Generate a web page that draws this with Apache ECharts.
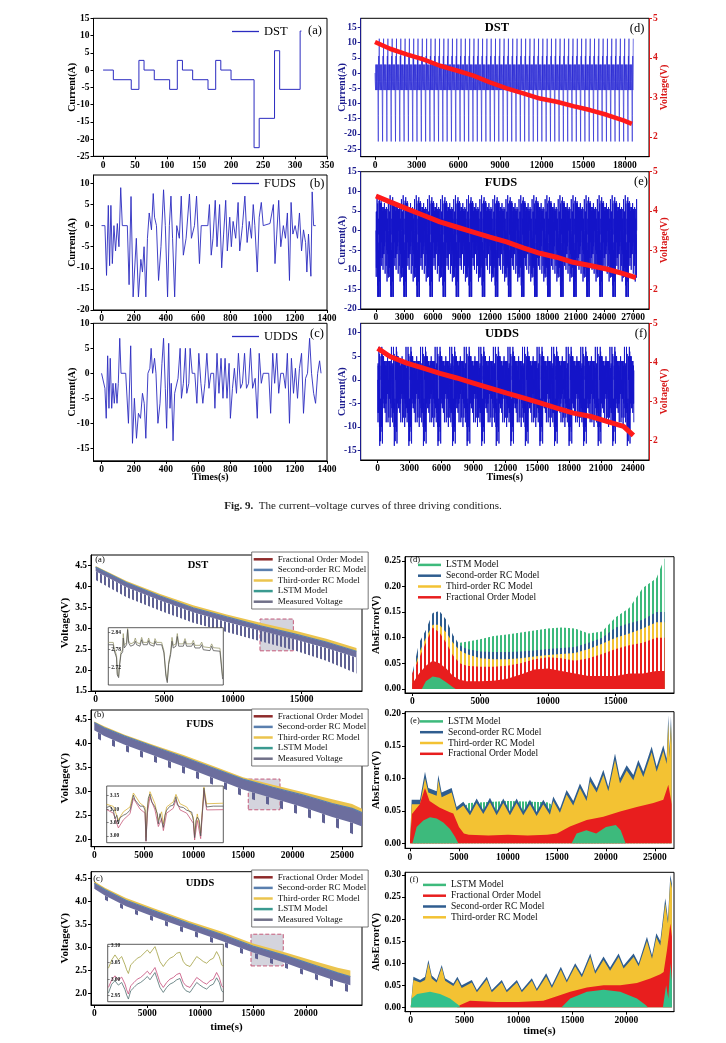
<!DOCTYPE html>
<html>
<head>
<meta charset="utf-8">
<script src="https://cdn.jsdelivr.net/npm/echarts@6/dist/echarts.min.js"></script>
<style>
  html, body { margin: 0; padding: 0; background: #fff; }
  #fig { width: 726px; height: 1043px; }
</style>
</head>
<body>
<div id="fig"></div>
<script>
// ---------- Fig. 9: single-cycle current profiles [time s, current A] ----------
const dstProfile = [[0,0],[16,-2.8],[44,-5.6],[56,2.8],[64,0],[80,-2.8],[104,-5.6],[116,2.8],[124,0],[140,-2.8],[164,-5.6],[176,2.8],[184,0],[200,-2.8],[236,-22.5],[244,-14],[268,5.6],[276,-5.6],[308,11.3],[310,11.3]];
const fudsProfile = [[0,0],[21,0],[31,-11.8],[42,4.8],[50,-9.5],[58,4.8],[67,-9],[77,0],[87,-6],[98,0.5],[108,-5],[119,9],[129,0],[160,0],[171,-14],[183,6.9],[196,-16.9],[208,-16.9],[216,-3],[229,-16.9],[244,-8],[254,-11],[264,-5],[275,-16.9],[285,-3],[296,3],[310,-1],[321,7.6],[329,2],[341,0],[354,-13],[369,-5],[385,8.5],[396,0],[410,-16.9],[421,0],[431,7],[441,-3],[454,-16.9],[467,0],[483,-3],[495,7],[508,-7],[525,-3],[546,7.5],[558,-3],[577,0],[590,7],[608,-9],[619,0],[660,0],[670,5],[681,-7],[692,-3],[706,6],[717,-5],[733,5],[746,-10],[758,-2],[771,6],[781,-6],[796,2],[806,-5],[817,1],[833,-3],[848,5.5],[858,-6],[875,0],[890,7],[904,-4],[917,1],[931,-3],[942,5],[952,0],[967,-11],[979,2],[992,5.5],[1004,0],[1046,0.5],[1067,5],[1077,-9],[1088,-2],[1100,6],[1113,-5],[1129,0],[1142,-3],[1154,3],[1167,-13],[1177,5.5],[1188,-2],[1202,0],[1217,-3],[1229,3],[1242,-6],[1254,-1],[1267,-4],[1275,-11],[1285,-2],[1300,-12],[1308,8],[1317,0],[1330,0]];
const uddsProfile = [[0,0],[10,0],[21,-3],[29,-9],[38,3.5],[46,-7],[54,3],[63,-7],[71,-2],[79,-6],[88,-2],[96,-6],[104,-2],[113,7],[121,0],[150,0],[167,-10],[181,5.5],[192,-14],[204,-5],[217,-13],[229,-8],[242,-9],[254,-4],[265,-6],[275,-13],[288,0],[300,1],[308,5],[317,0],[329,3],[338,0],[350,-10],[363,-6],[375,2],[385,7],[396,-3],[404,-11],[417,6],[425,-7],[433,-2],[444,-13.5],[454,-4],[463,-4],[475,-1],[488,5],[496,-5],[508,-2],[521,5],[529,-4],[542,-2],[550,5],[563,0],[579,0],[592,-6],[604,4],[617,-2],[629,-6],[642,-2],[654,4],[667,-3],[679,0],[696,0],[704,-7],[717,4],[729,-4],[742,3],[754,-5],[767,3],[779,-5],[792,2],[800,-9],[813,-3],[825,1],[838,-4],[850,4],[863,-3],[875,-2],[888,4],[900,-3],[913,-2],[925,5],[938,-3],[954,-1],[967,-9],[979,4],[992,-2],[1004,0],[1038,0],[1050,-8],[1063,4],[1075,-2],[1088,4],[1100,-4],[1113,0],[1129,0],[1142,-3],[1154,4],[1167,-10],[1179,3],[1192,-4],[1204,1],[1217,-5],[1229,1],[1242,4],[1254,-8],[1267,-1],[1279,0],[1292,7],[1304,0],[1317,-4],[1329,-6],[1342,0],[1354,2.5],[1363,0]];

// full tests = the cycle repeated
const dstCycle = 310, dstCycles = 60, dstEnd = 18600;
const fudsCycle = 1372, fudsCycles = 20, fudsEnd = 27440;
const uddsCycle = 1370, uddsCycles = 18, uddsEnd = 24100;

// terminal voltage over the full tests
const dstVoltT = [0,1080,2280,3480,4680,5880,7080,8280,9480,10680,11880,13080,14280,15480,16680,17880,18500];
const dstVolt = [4.40,4.23,4.09,3.96,3.80,3.68,3.55,3.38,3.23,3.10,2.97,2.89,2.78,2.68,2.56,2.42,2.33];
const fudsVoltT = [0,1470,3220,4970,6720,8470,10220,11970,13720,15470,17220,18970,20720,22470,24220,25970,27300];
const fudsVolt = [4.38,4.23,4.06,3.89,3.72,3.59,3.46,3.33,3.21,3.06,2.92,2.82,2.69,2.61,2.52,2.40,2.30];
const uddsVoltT = [0,1160,2730,4290,5860,7430,9000,10570,12140,13700,15270,16840,18410,19980,21550,23120,24050];
const uddsVolt = [4.36,4.15,3.98,3.85,3.72,3.60,3.47,3.34,3.21,3.09,2.96,2.83,2.70,2.62,2.49,2.36,2.13];

// ---------- model comparison: voltage envelopes ----------
const dstVT = [0,2250,4700,7100,9550,12000,14400,16800,19000];
const dstVTop = [4.46,4.09,3.77,3.49,3.27,3.06,2.87,2.67,2.45];
const dstVSolid = [4.36,3.98,3.66,3.38,3.15,2.94,2.74,2.53,2.30];
const dstVTooth = [4.15,3.74,3.42,3.13,2.91,2.69,2.48,2.22,1.92];
const dstVThird = [4.49,4.13,3.82,3.55,3.33,3.13,2.95,2.75,2.53];

const fudsVT = [0,1000,3000,6000,9000,12000,15000,18000,21000,24000,26000,27000];
const fudsVTop = [4.44,4.33,4.16,3.94,3.72,3.49,3.26,3.09,2.93,2.75,2.65,2.56];
const fudsVThird = [4.46,4.36,4.19,3.97,3.76,3.53,3.30,3.14,2.99,2.84,2.74,2.64];
const fudsVLow = [4.28,4.16,3.98,3.75,3.52,3.28,3.04,2.86,2.68,2.47,2.35,2.27];
const fudsVDip = [4.15,4.02,3.85,3.62,3.38,3.14,2.90,2.70,2.50,2.28,2.12,1.98];

const uddsVT = [0,1000,3000,6000,9000,12000,15000,18000,21000,23000,24200];
const uddsVTop = [4.40,4.26,4.03,3.77,3.52,3.29,3.03,2.83,2.60,2.45,2.37];
const uddsVThird = [4.44,4.30,4.08,3.82,3.57,3.35,3.09,2.90,2.69,2.56,2.50];
const uddsVLow = [4.28,4.13,3.90,3.64,3.39,3.15,2.89,2.67,2.42,2.26,2.18];
const uddsVDip = [4.20,4.04,3.80,3.54,3.28,3.04,2.78,2.56,2.30,2.10,2.02];

// zoomed regions [t0, t1, v0, v1]
const dstZoomBox = [11970, 14400, 2.46, 3.22];
const fudsZoomBox = [15530, 18730, 2.62, 3.26];
const uddsZoomBox = [14810, 17860, 2.60, 3.29];

// insets [x, V]
const insetAMeas = [[0,2.797],[4.3,2.797],[4.9,2.78],[7.2,2.752],[7.8,2.694],[9,2.685],[9.6,2.719],[11,2.764],[12.5,2.773],[13,2.82],[13.9,2.786],[15.9,2.797],[16.8,2.848],[17.7,2.803],[19.4,2.792],[22.3,2.797],[23.5,2.809],[24.6,2.797],[27.5,2.792],[29,2.814],[30.4,2.797],[33.9,2.797],[35.1,2.811],[36.2,2.797],[39.7,2.792],[40.6,2.809],[42,2.797],[46.4,2.797],[48.4,2.769],[50.1,2.69],[51.3,2.668],[52.5,2.73],[54.2,2.764],[55.4,2.809],[56.5,2.786],[58.8,2.792],[60,2.825],[61.2,2.792],[65.2,2.792],[66.7,2.809],[68.1,2.792],[72.5,2.792],[73.9,2.803],[75.4,2.786],[79.7,2.786],[81.2,2.797],[82.6,2.78],[88.4,2.777],[89.9,2.792],[91.3,2.777],[97.1,2.775],[98.6,2.777],[99.4,2.68],[100,2.68]];
const insetAModel = [[0,2.805],[4.3,2.805],[4.9,2.79],[7.2,2.76],[7.8,2.70],[9,2.69],[9.6,2.725],[11,2.772],[12.5,2.78],[13,2.835],[13.9,2.795],[15.9,2.805],[16.8,2.852],[17.7,2.81],[19.4,2.8],[22.3,2.805],[23.5,2.82],[24.6,2.805],[27.5,2.8],[29,2.822],[30.4,2.805],[33.9,2.805],[35.1,2.82],[36.2,2.805],[39.7,2.8],[40.6,2.818],[42,2.805],[46.4,2.805],[48.4,2.776],[50.1,2.7],[51.3,2.675],[52.5,2.738],[54.2,2.772],[55.4,2.822],[56.5,2.795],[58.8,2.8],[60,2.835],[61.2,2.8],[65.2,2.8],[66.7,2.818],[68.1,2.8],[72.5,2.8],[73.9,2.812],[75.4,2.795],[79.7,2.795],[81.2,2.806],[82.6,2.79],[88.4,2.787],[89.9,2.8],[91.3,2.787],[97.1,2.785],[98.6,2.787],[99.4,2.69],[100,2.69]];
const insetBMeas = [[0,3.106],[2.9,3.111],[5.7,3.096],[7.1,3.064],[8.6,3.077],[10,3.045],[11.4,3.068],[14.3,3.077],[17.1,3.083],[20,3.096],[21.4,3.121],[22.9,3.152],[24.3,3.134],[25.7,3.127],[28.6,3.111],[31.4,3.111],[32.9,3.096],[33.7,2.982],[34.9,3.096],[35.7,3.14],[37.1,3.156],[38.6,3.127],[41.4,3.108],[43.4,3.083],[44.3,3.045],[45.7,3.083],[47.1,3.077],[48.6,3.032],[50,3.077],[51.4,3.096],[54.3,3.111],[57.1,3.115],[58.6,3.134],[59.4,3.146],[60.6,3.115],[62.9,3.108],[65.7,3.106],[68.6,3.096],[72.9,3.089],[74.3,3.058],[75.4,2.994],[76.6,3.058],[77.7,3.07],[79.4,3.058],[80.6,3.0],[81.7,3.07],[82.9,3.134],[83.4,3.178],[84.6,3.134],[85.7,3.108],[91.4,3.111],[100,3.111]];
const insetBThird = [[0,3.118],[5.7,3.11],[10,3.06],[14.3,3.09],[20,3.108],[22.9,3.16],[28.6,3.122],[32.9,3.108],[33.7,2.995],[34.9,3.108],[37.1,3.165],[41.4,3.12],[44.3,3.058],[47.1,3.09],[48.6,3.045],[51.4,3.108],[57.1,3.127],[59.4,3.155],[62.9,3.12],[68.6,3.108],[74.3,3.07],[75.4,3.006],[77.7,3.082],[80.6,3.012],[83.4,3.182],[85.7,3.12],[100,3.122]];
const insetBFrac = [[0,3.098],[5.7,3.085],[10,3.03],[14.3,3.06],[20,3.083],[22.9,3.14],[28.6,3.1],[32.9,3.085],[33.7,2.98],[34.9,3.085],[37.1,3.145],[41.4,3.097],[44.3,3.035],[47.1,3.065],[48.6,3.02],[51.4,3.085],[57.1,3.103],[59.4,3.135],[62.9,3.097],[68.6,3.085],[74.3,3.047],[75.4,2.985],[77.7,3.058],[80.6,2.99],[83.4,3.17],[85.7,3.097],[100,3.098]];
const insetCThird = [[0.6,3.033],[3.5,3.058],[6.3,3.073],[9.2,3.058],[12.1,3.068],[15,3.043],[16.4,3.028],[17.9,3.017],[19.9,3.043],[22.8,3.053],[25.6,3.063],[28.5,3.068],[31.4,3.078],[34.3,3.088],[36.6,3.078],[40.9,3.098],[42.4,3.083],[45.2,3.053],[48.1,3.038],[51,3.053],[53.9,3.063],[56.8,3.068],[59.7,3.078],[62.5,3.081],[65.4,3.053],[67.7,3.043],[71.2,3.038],[74.1,3.053],[77,3.068],[79.8,3.061],[82.7,3.053],[85.6,3.048],[88.5,3.058],[91.4,3.063],[94.2,3.083],[96.5,3.068],[98.6,3.043],[100,3.038]];
const insetCFrac = [[0.6,2.975],[3.5,2.998],[6.3,3.01],[9.2,2.998],[12.1,3.006],[15,2.985],[16.4,2.968],[17.9,2.955],[19.9,2.98],[22.8,2.99],[25.6,3.0],[28.5,3.005],[31.4,3.014],[34.3,3.024],[36.6,3.014],[40.9,3.035],[42.4,3.02],[45.2,2.99],[48.1,2.975],[51,2.99],[53.9,3.0],[56.8,3.005],[59.7,3.014],[62.5,3.018],[65.4,2.99],[67.7,2.98],[71.2,2.975],[74.1,2.99],[77,3.005],[79.8,2.998],[82.7,2.99],[85.6,2.985],[88.5,2.995],[91.4,3.0],[94.2,3.02],[96.5,3.005],[98.6,2.98],[100,2.975]];
const insetCMeas = [[0.6,2.958],[3.5,2.985],[6.3,2.995],[9.2,2.982],[12.1,2.99],[15,2.968],[16.4,2.952],[17.9,2.94],[19.9,2.965],[22.8,2.975],[25.6,2.985],[28.5,2.99],[31.4,2.998],[34.3,3.008],[36.6,2.998],[40.9,3.02],[42.4,3.004],[45.2,2.975],[48.1,2.96],[51,2.975],[53.9,2.985],[56.8,2.99],[59.7,2.998],[62.5,3.002],[65.4,2.975],[67.7,2.965],[71.2,2.96],[74.1,2.975],[77,2.99],[79.8,2.982],[82.7,2.975],[85.6,2.97],[88.5,2.98],[91.4,2.985],[94.2,3.004],[96.5,2.99],[98.6,2.965],[100,2.96]];

// ---------- absolute error envelopes ----------
const dstErrT = [0,500,1000,1500,2000,2500,3000,3500,4000,5000,6000,7000,8000,9000,10000,11000,12000,13000,14000,15000,16000,17000,18000,18600];
const dstErrLstm = [0.02,0.06,0.09,0.11,0.10,0.09,0.085,0.09,0.092,0.097,0.103,0.106,0.11,0.114,0.118,0.12,0.118,0.108,0.112,0.14,0.158,0.197,0.216,0.255];
const dstErrSecond = [0.03,0.09,0.115,0.148,0.152,0.135,0.105,0.085,0.078,0.073,0.072,0.072,0.073,0.075,0.078,0.08,0.082,0.09,0.1,0.12,0.128,0.135,0.15,0.15];
const dstErrThird = [0.025,0.07,0.1,0.125,0.125,0.11,0.09,0.075,0.068,0.06,0.058,0.058,0.06,0.063,0.066,0.068,0.07,0.078,0.088,0.1,0.108,0.118,0.13,0.13];
const dstErrFrac = [0.03,0.06,0.09,0.12,0.11,0.09,0.065,0.05,0.045,0.043,0.043,0.045,0.05,0.058,0.062,0.06,0.055,0.06,0.068,0.078,0.085,0.09,0.1,0.1];
const dstErrFracBase = [0.01,0.03,0.045,0.055,0.05,0.04,0.025,0.018,0.015,0.015,0.016,0.02,0.028,0.038,0.04,0.035,0.03,0.025,0.025,0.025,0.03,0.03,0.035,0.035];
const dstErrLstmLowT = [700,1000,1500,2000,2500,3000,3200];
const dstErrLstmLow = [0,0.015,0.024,0.022,0.013,0.003,0];

const fudsErrT = [0,170,1020,1530,1870,2720,2890,3230,4250,4760,5440,6120,6800,7480,8160,8840,9520,10200,10880,11560,12240,12920,13600,14280,14620,15300,15980,16660,17340,18020,18370,19050,19730,20240,20920,21430,22110,22790,23300,23810,24660,25170,25850,26190,26360,26470,26630,26700];
const fudsErrSecond = [0,0.067,0.067,0.11,0.085,0.08,0.105,0.078,0.085,0.056,0.064,0.049,0.069,0.051,0.07,0.049,0.069,0.049,0.069,0.049,0.067,0.048,0.067,0.05,0.072,0.053,0.082,0.065,0.092,0.072,0.103,0.085,0.113,0.087,0.138,0.1,0.12,0.105,0.128,0.11,0.149,0.118,0.151,0.13,0.197,0.14,0.195,0.16];
const fudsErrThird = [0,0.06,0.06,0.1,0.078,0.073,0.097,0.071,0.078,0.05,0.058,0.043,0.062,0.045,0.063,0.043,0.062,0.043,0.062,0.043,0.06,0.042,0.06,0.044,0.065,0.047,0.075,0.058,0.085,0.065,0.095,0.078,0.105,0.08,0.128,0.092,0.112,0.097,0.12,0.102,0.14,0.11,0.142,0.122,0.185,0.132,0.183,0.15];
const fudsErrLstmT = [0,2000,4000,5000,6000,10000,14000,15000,16000,17000,20000,22000,24000,26000,26700];
const fudsErrLstm = [0.03,0.04,0.03,0.05,0.062,0.065,0.063,0.055,0.04,0.03,0.03,0.025,0.02,0.02,0.03];
const fudsErrFracT = [0,200,1000,1530,2000,3000,4000,4420,5000,5500,6000,8000,10000,12000,14000,15000,16320,18030,19730,21440,23140,24840,25850,26360,26600,26700];
const fudsErrFrac = [0.005,0.045,0.06,0.085,0.065,0.055,0.048,0.046,0.025,0.015,0.013,0.012,0.013,0.012,0.013,0.015,0.026,0.036,0.041,0.049,0.056,0.062,0.067,0.09,0.07,0.06];
const fudsErrLstmLowT = [250,680,1360,2040,2720,3400,4080,4590,4930,16500,17000,18000,19000,20000,21000,21500,22000];
const fudsErrLstmLow = [0,0.025,0.035,0.04,0.038,0.032,0.022,0.01,0,0,0.015,0.02,0.015,0.025,0.028,0.02,0];

const uddsErrT = [0,250,870,1330,1640,1950,2410,2880,3190,3960,4330,4730,5670,6140,7060,7520,8450,8910,9850,10310,11240,11700,12570,13100,13930,14480,15260,15880,16660,17120,17890,18500,19290,19750,20680,21150,21920,22390,22790,23160,23620,23870,24090,24240];
const uddsErrSecond = [0,0.069,0.062,0.069,0.107,0.072,0.062,0.096,0.066,0.054,0.069,0.05,0.062,0.039,0.069,0.039,0.062,0.039,0.062,0.039,0.066,0.042,0.077,0.05,0.092,0.062,0.1,0.075,0.122,0.083,0.115,0.09,0.122,0.095,0.122,0.1,0.16,0.118,0.168,0.15,0.247,0.2,0.30,0.28];
const uddsErrThird = [0,0.062,0.056,0.062,0.1,0.065,0.056,0.09,0.06,0.048,0.063,0.044,0.056,0.034,0.063,0.034,0.056,0.034,0.056,0.034,0.06,0.037,0.07,0.044,0.085,0.056,0.093,0.068,0.114,0.076,0.107,0.083,0.114,0.088,0.114,0.093,0.15,0.11,0.158,0.14,0.235,0.19,0.29,0.27];
const uddsErrFracT = [0,4300,4600,5500,8000,10000,12300,13560,14800,16350,17900,19440,20990,22230,23160,23470,23780,24090,24240];
const uddsErrFrac = [0,0,0.005,0.015,0.012,0.012,0.015,0.025,0.035,0.045,0.05,0.05,0.055,0.065,0.075,0.08,0.13,0.19,0.16];
const uddsErrLstmT = [0,90,600,1800,2720,3650,4430,4600,14000,14800,16350,17900,19440,20990,21800,22000,23400,23700,23900,24100,24240];
const uddsErrLstm = [0,0.02,0.03,0.035,0.03,0.02,0.005,0,0,0.02,0.035,0.04,0.035,0.02,0.005,0,0,0.05,0.02,0.1,0.06];

// ---------- tick labels ----------
const tickTopA = [0,50,100,150,200,250,300,350];
const tickTopBC = [0,200,400,600,800,1000,1200,1400];
const tickDst = [0,3000,6000,9000,12000,15000,18000];
const tickFuds = [0,3000,6000,9000,12000,15000,18000,21000,24000,27000];
const tickUdds = [0,3000,6000,9000,12000,15000,18000,21000,24000];
const tickCurA = [-25,-20,-15,-10,-5,0,5,10,15];
const tickCurB = [-20,-15,-10,-5,0,5,10];
const tickCurC = [-15,-10,-5,0,5,10];
const tickCurE = [-20,-15,-10,-5,0,5,10,15];
const tickVoltR = [2,3,4,5];
const tickBotA = [0,5000,10000,15000];
const tickBot25 = [0,5000,10000,15000,20000,25000];
const tickBot20 = [0,5000,10000,15000,20000];
const tickVoltA = [1.5,2.0,2.5,3.0,3.5,4.0,4.5];
const tickVoltBC = [2.0,2.5,3.0,3.5,4.0,4.5];
const tickErrD = [0,0.05,0.10,0.15,0.20,0.25];
const tickErrE = [0,0.05,0.10,0.15,0.20];
const tickErrF = [0,0.05,0.10,0.15,0.20,0.25,0.30];
const tickInsetA = [2.72,2.78,2.84];
const tickInsetB = [3.00,3.05,3.10,3.15];
const tickInsetC = [2.95,3.00,3.05,3.10];

const legendLeft = ['Fractional Order Model','Second-order RC Model','Third-order RC Model','LSTM Model','Measured Voltage'];
const legendRightDE = ['LSTM Model','Second-order RC Model','Third-order RC Model','Fractional Order Model'];
const legendRightF = ['LSTM Model','Fractional Order Model','Second-order RC Model','Third-order RC Model'];

// ---------- styling ----------
const serif = '"Liberation Serif", "Times New Roman", serif';
const navy = '#1c1c8e';
const vred = '#d81818';
const cur = '#2b2bc0';
const C = {
  lstm: '#3dba7c', second: '#2f5d8f', third: '#f3c233', frac: '#e81e1e',
  meas: '#6c6e9e', measDark: '#5f6193', secondL: '#5a7fae', thirdL: '#ebc44e', fracL: '#8e2a2a', lstmL: '#3a9a90'
};
const legendColors = {
  left: { 'Fractional Order Model': C.fracL, 'Second-order RC Model': C.secondL, 'Third-order RC Model': C.thirdL, 'LSTM Model': C.lstmL, 'Measured Voltage': '#707088' },
  right: { 'Fractional Order Model': C.frac, 'Second-order RC Model': C.second, 'Third-order RC Model': C.third, 'LSTM Model': C.lstm }
};

// panel boxes [left, top, width, height]
const panels = [
  [93.5, 18.3, 233.5, 138], [93.5, 175, 233.5, 135], [93.5, 323.3, 233.5, 137.5],
  [360.7, 18.3, 288.3, 138.4], [360.7, 171.7, 288.3, 137.3], [360.7, 323.3, 288.3, 136.7],
  [91, 555, 271, 136], [91, 710, 271, 136.7], [91, 871.7, 271, 133.3],
  [405, 556.7, 269, 136.3], [405, 711.7, 269, 136.6], [405, 872.3, 269, 139.4],
  [108.3, 627.7, 115, 57.3], [106.7, 786, 116.6, 56.7], [107.7, 944.3, 115.6, 57.4]
];

function stripes(color, period, w) {
  const c = document.createElement('canvas');
  c.width = period; c.height = 8;
  const ctx = c.getContext('2d');
  ctx.fillStyle = color;
  ctx.fillRect(0, 0, w, 8);
  return { image: c, repeat: 'repeat' };
}

function repeatProfile(profile, cycleLen, cycles, tEnd) {
  const out = [];
  for (let c = 0; c < cycles; c++) {
    for (const p of profile) {
      const t = c * cycleLen + p[0];
      if (t <= tEnd) out.push([t, p[1]]);
    }
  }
  return out;
}

const zip = (xs, ys) => xs.map((x, i) => [x, ys[i]]);

function xAx(i, min, max, ticks, extra) {
  return Object.assign({
    type: 'value', gridIndex: i, min: min, max: max, nameMoveOverlap: false,
    axisLine: { onZero: false, lineStyle: { color: '#000', width: 1 } },
    axisTick: { customValues: ticks, length: 3, lineStyle: { color: '#000' } },
    axisLabel: { customValues: ticks, margin: 4, color: '#000', fontFamily: serif, fontWeight: 'bold', fontSize: 9.5, formatter: v => String(v) },
    splitLine: { show: false }
  }, extra || {});
}
function yAx(i, min, max, ticks, fmt, extra, color) {
  const col = color || '#000';
  return Object.assign({
    type: 'value', gridIndex: i, min: min, max: max,
    axisLine: { show: true, onZero: false, lineStyle: { color: col, width: 1 } },
    axisTick: { show: true, customValues: ticks, length: 3, lineStyle: { color: col } },
    axisLabel: { customValues: ticks, margin: 4, color: col, fontFamily: serif, fontWeight: 'bold', fontSize: 9.5, formatter: fmt },
    splitLine: { show: false },
    nameLocation: 'middle', nameRotate: 90, nameMoveOverlap: false,
    nameTextStyle: { fontFamily: serif, fontWeight: 'bold', fontSize: 10, color: col }
  }, extra || {});
}
const fInt = v => String(v);
const f1 = v => v.toFixed(1);
const f2 = v => v.toFixed(2);

// filled polygon between lo and hi, drawn through the axes
function band(name, gi, xs, lo, hi, fill, z) {
  return {
    name: name, type: 'custom', xAxisIndex: gi, yAxisIndex: gi, z: z || 2, silent: true,
    data: xs.map((t, i) => [t, lo[i], hi[i]]),
    renderItem: function (params, api) {
      if (params.dataIndex !== 0) return;
      const pts = [];
      for (let i = 0; i < xs.length; i++) pts.push(api.coord([xs[i], hi[i]]));
      for (let i = xs.length - 1; i >= 0; i--) pts.push(api.coord([xs[i], lo[i]]));
      return { type: 'polygon', shape: { points: pts }, style: { fill: fill, stroke: null } };
    }
  };
}
function line(name, gi, yi, data, color, width, extra) {
  return Object.assign({
    name: name, type: 'line', xAxisIndex: gi, yAxisIndex: yi, data: data,
    showSymbol: false, symbol: 'none', silent: true,
    lineStyle: { color: color, width: width }, itemStyle: { color: color }
  }, extra || {});
}
function area(name, gi, xs, ys, fill, z) {
  return {
    name: name, type: 'line', xAxisIndex: gi, yAxisIndex: gi, data: zip(xs, ys), z: z || 2,
    showSymbol: false, symbol: 'none', silent: true,
    lineStyle: { opacity: 0 }, areaStyle: { color: fill, opacity: 1 }, itemStyle: { color: '#888' }
  };
}
function zoomBox(gi, b) {
  return {
    type: 'line', xAxisIndex: gi, yAxisIndex: gi, data: [], z: 5, silent: true,
    markArea: {
      silent: true,
      itemStyle: { color: 'rgba(160,160,180,0.45)', borderColor: '#c45a7a', borderWidth: 1, borderType: 'dashed' },
      data: [[{ xAxis: b[0], yAxis: b[2] }, { xAxis: b[1], yAxis: b[3] }]]
    }
  };
}
function modelLegend(names, colors, left, top, boxed) {
  return {
    orient: 'vertical', left: left, top: top, itemGap: 0, itemWidth: boxed ? 19 : 23, itemHeight: 2.5,
    padding: boxed ? [2, 2, 2, 2] : 0,
    borderColor: boxed ? '#555' : 'transparent', borderWidth: boxed ? 0.8 : 0,
    backgroundColor: boxed ? '#fff' : 'transparent',
    textStyle: { fontFamily: serif, fontSize: boxed ? 9 : 9.5, color: '#111', lineHeight: boxed ? 10.6 : 10.8 },
    selectedMode: false,
    data: names.map(n => ({ name: n, icon: 'rect', itemStyle: { color: colors[n] } }))
  };
}
function singleLegend(name, left, top) {
  return {
    left: left, top: top, padding: 0, itemWidth: 27, itemHeight: 1.3, selectedMode: false,
    textStyle: { fontFamily: serif, fontSize: 12.5, color: '#000' },
    data: [{ name: name, icon: 'rect', itemStyle: { color: cur } }]
  };
}

// ---------- axes ----------
const xName = (n, gap, size) => ({ name: n, nameLocation: 'middle', nameGap: gap, nameTextStyle: { fontFamily: serif, fontWeight: 'bold', fontSize: size, color: '#000' } });
const xAxes = [
  xAx(0, -15, 350, tickTopA),
  xAx(1, -50, 1400, tickTopBC),
  xAx(2, -50, 1400, tickTopBC, xName('Times(s)', 12, 10)),
  xAx(3, -1030, 19730, tickDst),
  xAx(4, -1600, 28680, tickFuds),
  xAx(5, -1600, 25520, tickUdds, xName('Times(s)', 12, 10)),
  xAx(6, -340, 19400, tickBotA),
  xAx(7, -330, 27000, tickBot25),
  xAx(8, -310, 25300, tickBot20, xName('time(s)', 17, 11)),
  xAx(9, -540, 19300, tickBotA),
  xAx(10, -510, 26940, tickBot25),
  xAx(11, -530, 24430, tickBot20, xName('time(s)', 14, 11)),
  { type: 'value', gridIndex: 12, min: 0, max: 100, show: false },
  { type: 'value', gridIndex: 13, min: 0, max: 100, show: false },
  { type: 'value', gridIndex: 14, min: 0, max: 100, show: false }
];
const insetY = (i, min, max, ticks) => ({
  type: 'value', gridIndex: i, min: min, max: max, z: 12,
  axisLine: { show: false }, splitLine: { show: false },
  axisTick: { show: true, inside: true, length: 2, customValues: ticks, lineStyle: { color: '#333', width: 0.6 } },
  axisLabel: { inside: true, customValues: ticks, margin: 3, fontSize: 5.5, fontFamily: serif, fontWeight: 'bold', color: '#222', formatter: f2 }
});
const vName = { fontFamily: serif, fontWeight: 'bold', fontSize: 11, color: '#000' };
const eName = { fontFamily: serif, fontWeight: 'bold', fontSize: 10.5, color: '#000' };
const yAxes = [
  yAx(0, -25, 15, tickCurA, fInt, { name: 'Current(A)', nameGap: 16 }),
  yAx(1, -20, 12, tickCurB, fInt, { name: 'Current(A)', nameGap: 16 }),
  yAx(2, -17.5, 10, tickCurC, fInt, { name: 'Current(A)', nameGap: 16 }),
  yAx(3, -27.5, 18, tickCurA, fInt, { name: 'Current(A)', nameGap: 13 }, navy),
  yAx(4, -20, 15, tickCurE, fInt, { name: 'Current(A)', nameGap: 13 }, navy),
  yAx(5, -17, 12, tickCurC, fInt, { name: 'Current(A)', nameGap: 13 }, navy),
  yAx(6, 1.5, 4.75, tickVoltA, f1, { name: 'Voltage(V)', nameGap: 20, nameTextStyle: vName }),
  yAx(7, 1.85, 4.7, tickVoltBC, f1, { name: 'Voltage(V)', nameGap: 20, nameTextStyle: vName }),
  yAx(8, 1.75, 4.65, tickVoltBC, f1, { name: 'Voltage(V)', nameGap: 20, nameTextStyle: vName }),
  yAx(9, -0.008, 0.258, tickErrD, f2, { name: 'AbsError(V)', nameGap: 23, nameTextStyle: eName }),
  yAx(10, -0.0077, 0.2025, tickErrE, f2, { name: 'AbsError(V)', nameGap: 23, nameTextStyle: eName }),
  yAx(11, -0.01, 0.306, tickErrF, f2, { name: 'AbsError(V)', nameGap: 23, nameTextStyle: eName }),
  insetY(12, 2.66, 2.855, tickInsetA),
  insetY(13, 2.975, 3.186, tickInsetB),
  insetY(14, 2.932, 3.105, tickInsetC),
  yAx(3, 1.5, 5, tickVoltR, fInt, { position: 'right', name: 'Voltage(V)', nameGap: 10 }, vred),
  yAx(4, 1.5, 5, tickVoltR, fInt, { position: 'right', name: 'Voltage(V)', nameGap: 10 }, vred),
  yAx(5, 1.5, 5, tickVoltR, fInt, { position: 'right', name: 'Voltage(V)', nameGap: 10 }, vred)
];

// ---------- series ----------
const series = [];
// Fig. 9 single cycles
series.push(line('DST', 0, 0, dstProfile, cur, 1, { step: 'end' }));
series.push(line('FUDS', 1, 1, fudsProfile, cur, 0.9));
series.push(line('UDDS', 2, 2, uddsProfile, cur, 0.9));
// Fig. 9 full tests
series.push(line('DST test current', 3, 3, repeatProfile(dstProfile, dstCycle, dstCycles, dstEnd), '#1c1cd2', 0.6, { step: 'end' }));
series.push(line('FUDS test current', 4, 4, repeatProfile(fudsProfile, fudsCycle, fudsCycles, fudsEnd), '#1414c8', 0.9));
series.push(line('UDDS test current', 5, 5, repeatProfile(uddsProfile, uddsCycle, uddsCycles, uddsEnd), '#1414c8', 0.9));
series.push(line('DST test voltage', 3, 15, zip(dstVoltT, dstVolt), '#ff1a1a', 4.5, { z: 4 }));
series.push(line('FUDS test voltage', 4, 16, zip(fudsVoltT, fudsVolt), '#ff1a1a', 5, { z: 4 }));
series.push(line('UDDS test voltage', 5, 17, zip(uddsVoltT, uddsVolt), '#ff1a1a', 5, { z: 4 }));

// model voltage panels
series.push(band('Measured Voltage', 6, dstVT, dstVTooth, dstVSolid, stripes(C.measDark, 4, 2)));
series.push(band('Measured Voltage', 6, dstVT, dstVSolid, dstVTop, C.meas));
series.push(band('Third-order RC Model', 6, dstVT, dstVTop, dstVThird, C.thirdL));
series.push(line('Second-order RC Model', 6, 6, zip(dstVT, dstVTop), C.secondL, 1.2));
series.push(zoomBox(6, dstZoomBox));

series.push(band('Measured Voltage', 7, fudsVT, fudsVDip, fudsVLow, stripes(C.measDark, 14, 3)));
series.push(band('Measured Voltage', 7, fudsVT, fudsVLow, fudsVTop, C.meas));
series.push(band('Third-order RC Model', 7, fudsVT, fudsVTop, fudsVThird, C.thirdL));
series.push(line('Second-order RC Model', 7, 7, zip(fudsVT, fudsVTop), C.secondL, 1.2));
series.push(zoomBox(7, fudsZoomBox));

series.push(band('Measured Voltage', 8, uddsVT, uddsVDip, uddsVLow, stripes(C.measDark, 15, 3)));
series.push(band('Measured Voltage', 8, uddsVT, uddsVLow, uddsVTop, C.meas));
series.push(band('Third-order RC Model', 8, uddsVT, uddsVTop, uddsVThird, C.thirdL));
series.push(line('Second-order RC Model', 8, 8, zip(uddsVT, uddsVTop), C.secondL, 1.2));
series.push(zoomBox(8, uddsZoomBox));

// insets
series.push(line('Third-order RC Model', 12, 12, insetAModel, '#9a9a70', 0.8, { z: 11 }));
series.push(line('Measured Voltage', 12, 12, insetAMeas, '#555', 0.8, { z: 11 }));
series.push(line('Third-order RC Model', 13, 13, insetBThird, '#d8b23c', 0.8, { z: 11 }));
series.push(line('Fractional Order Model', 13, 13, insetBFrac, '#c65a7a', 0.8, { z: 11 }));
series.push(line('Measured Voltage', 13, 13, insetBMeas, '#555', 0.8, { z: 11 }));
series.push(line('Third-order RC Model', 14, 14, insetCThird, '#a2a040', 0.8, { z: 11 }));
series.push(line('Fractional Order Model', 14, 14, insetCFrac, '#c44a78', 0.8, { z: 11 }));
series.push(line('Measured Voltage', 14, 14, insetCMeas, '#4f6f70', 0.8, { z: 11 }));

// error panels
series.push(area('LSTM Model', 9, dstErrT, dstErrLstm, stripes(C.lstm, 4, 2)));
series.push(area('Second-order RC Model', 9, dstErrT, dstErrSecond, stripes(C.second, 4, 2)));
series.push(area('Third-order RC Model', 9, dstErrT, dstErrThird, stripes(C.third, 4, 2)));
series.push(area('Fractional Order Model', 9, dstErrT, dstErrFrac, stripes(C.frac, 4, 2)));
series.push(area('Fractional Order Model', 9, dstErrT, dstErrFracBase, C.frac));
series.push(area('LSTM Model', 9, dstErrLstmLowT, dstErrLstmLow, C.lstm));

series.push(area('LSTM Model', 10, fudsErrLstmT, fudsErrLstm, stripes(C.lstm, 3, 2)));
series.push(area('Second-order RC Model', 10, fudsErrT, fudsErrSecond, C.second));
series.push(area('Third-order RC Model', 10, fudsErrT, fudsErrThird, C.third));
series.push(area('Fractional Order Model', 10, fudsErrFracT, fudsErrFrac, C.frac));
series.push(area('LSTM Model', 10, fudsErrLstmLowT, fudsErrLstmLow, C.lstm));

series.push(area('Second-order RC Model', 11, uddsErrT, uddsErrSecond, C.second));
series.push(area('Third-order RC Model', 11, uddsErrT, uddsErrThird, C.third));
series.push(area('Fractional Order Model', 11, uddsErrFracT, uddsErrFrac, C.frac));
series.push(area('LSTM Model', 11, uddsErrLstmT, uddsErrLstm, '#33c08c'));

// ---------- text ----------
function txt(text, x, y, size, bold, color, align) {
  return { type: 'text', x: x, y: y, z: 20, silent: true,
    style: { text: text, fill: color || '#000', font: (bold ? 'bold ' : '') + size + 'px ' + serif, align: align || 'center', verticalAlign: 'middle' } };
}
const graphics = [
  txt('(a)', 315, 31, 12.5), txt('(b)', 317, 184, 12.5), txt('(c)', 317, 334, 12.5),
  txt('(d)', 637, 29, 12.5), txt('(e)', 641, 182, 12.5), txt('(f)', 641, 334, 12.5),
  txt('DST', 497, 28, 12.5, true), txt('FUDS', 501, 183, 12.5, true), txt('UDDS', 502, 334, 12.5, true),
  txt('(a)', 100, 560, 8.5), txt('(b)', 99, 715, 8.5), txt('(c)', 98, 879, 8.5),
  txt('(d)', 415, 560, 8.5), txt('(e)', 415, 721, 8.5), txt('(f)', 414, 880, 8.5),
  txt('DST', 198, 565, 10.5, true), txt('FUDS', 200, 724, 10.5, true), txt('UDDS', 200, 883, 10.5, true),
  { type: 'text', x: 363, y: 506, z: 20, silent: true,
    style: { text: '{b|Fig. 9.}  The current–voltage curves of three driving conditions.', fill: '#222',
      font: '11px ' + serif, align: 'center', verticalAlign: 'middle',
      rich: { b: { fontWeight: 'bold', fontSize: 11, fontFamily: serif, fill: '#222' } } } }
];

const legends = [
  singleLegend('DST', 232, 25),
  singleLegend('FUDS', 232, 177),
  singleLegend('UDDS', 232, 330),
  modelLegend(legendLeft, legendColors.left, 251.7, 552, true),
  modelLegend(legendLeft, legendColors.left, 251.7, 709, true),
  modelLegend(legendLeft, legendColors.left, 251.7, 870, true),
  modelLegend(legendRightDE, legendColors.right, 418, 559.5, false),
  modelLegend(legendRightDE, legendColors.right, 420, 716, false),
  modelLegend(legendRightF, legendColors.right, 423, 879.5, false)
];

const chart = echarts.init(document.getElementById('fig'), null, { renderer: 'canvas' });
chart.setOption({
  animation: false,
  backgroundColor: '#fff',
  grid: panels.map((p, i) => ({
    left: p[0], top: p[1], width: p[2], height: p[3], show: true,
    borderColor: i >= 12 ? '#333' : '#000', borderWidth: i >= 12 ? 0.8 : 1,
    backgroundColor: i >= 12 ? '#fff' : 'transparent', z: i >= 12 ? 10 : 0
  })),
  xAxis: xAxes,
  yAxis: yAxes,
  legend: legends,
  series: series,
  graphic: graphics
});
</script>
</body>
</html>
